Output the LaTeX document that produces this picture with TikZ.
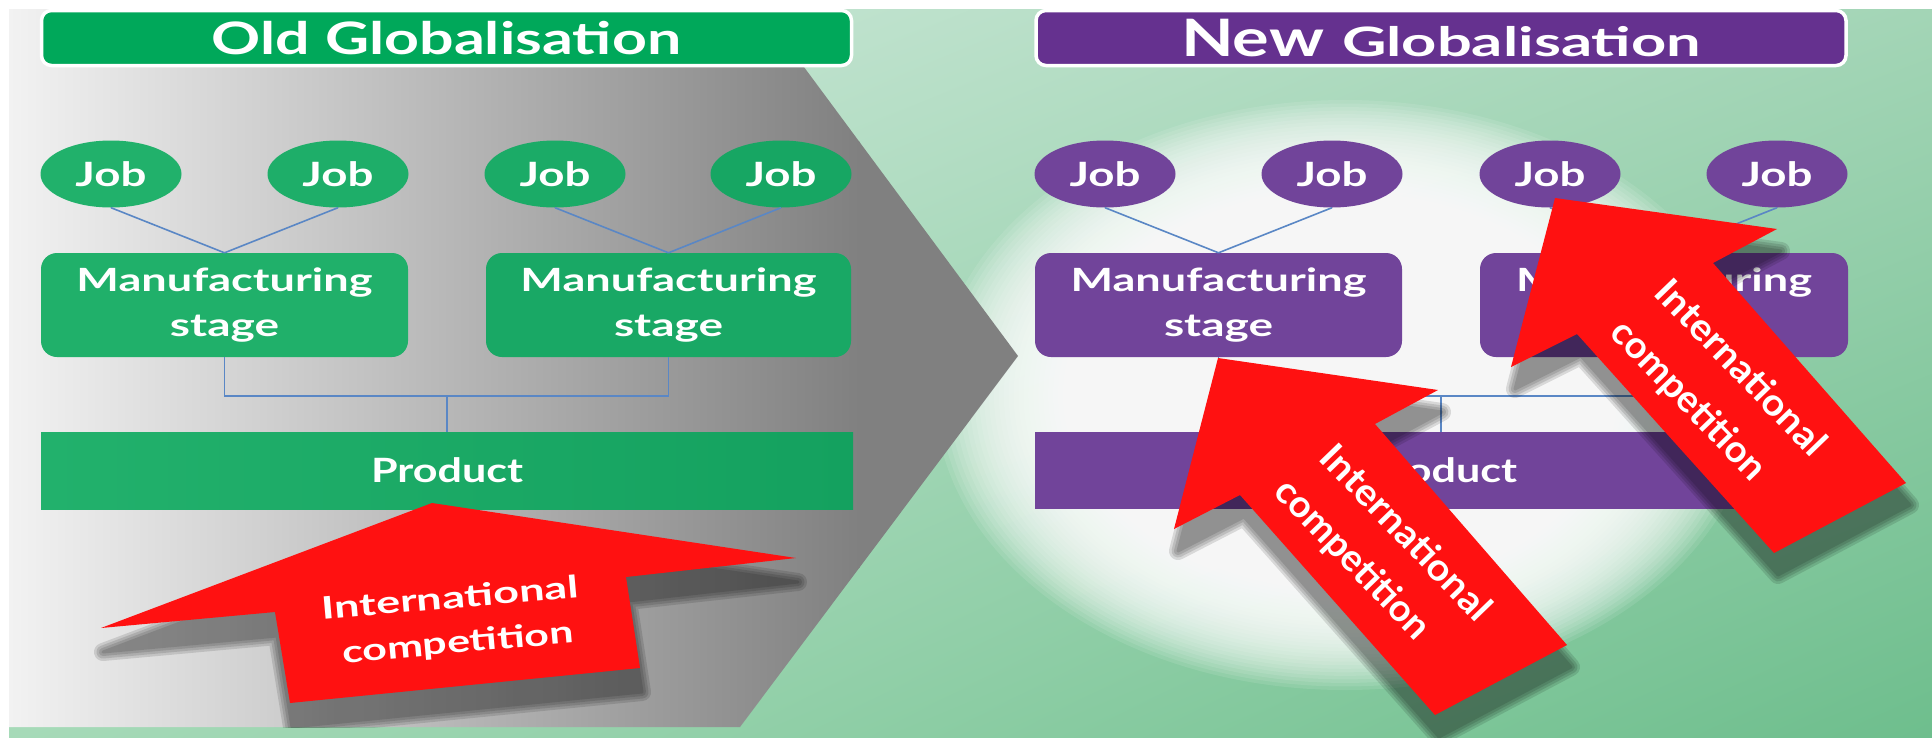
\documentclass[tikz,border=0pt]{standalone}
\usepackage{fontspec}
\usepackage{graphicx}
\setmainfont{Lato}
\usetikzlibrary{shapes.geometric,shadings}

\definecolor{oldtitle}{HTML}{00A85A}
\definecolor{oldjobA}{HTML}{21B16B}
\definecolor{oldjobB}{HTML}{1EAE69}
\definecolor{oldjobC}{HTML}{1BAB67}
\definecolor{oldjobD}{HTML}{17A663}
\definecolor{oldmfgA}{HTML}{20B06A}
\definecolor{oldmfgB}{HTML}{19A865}
\definecolor{oldprodL}{HTML}{22B16C}
\definecolor{oldprodR}{HTML}{14A15F}
\definecolor{newtitle}{HTML}{65318F}
\definecolor{newpurple}{HTML}{71449A}
\definecolor{arrowred}{HTML}{FF1111}
\definecolor{lineblue}{HTML}{5A87C5}
\definecolor{bgUL}{HTML}{D4ECDF}
\definecolor{bgUR}{HTML}{A3D5B6}
\definecolor{bgLL}{HTML}{A6DAB8}
\definecolor{bgLR}{HTML}{6EBE8D}
\definecolor{grayL}{HTML}{F2F2F2}
\definecolor{grayM}{HTML}{CDCDCD}
\definecolor{grayR}{HTML}{808080}

\newcommand{\fitw}[2]{\resizebox{#1}{\height}{#2}}
\newcommand{\softshadow}[2]{%
  \foreach \lw in {18,13,8,3}{%
    \begin{scope}[transparency group, opacity=0.12]
      \filldraw[black, line width=\lw pt, line join=round, shift={#1}] #2;
    \end{scope}}%
}

\begin{document}
\begin{tikzpicture}[x=1pt,y=-1pt,
  jobst/.style={ellipse, minimum width=141pt, minimum height=67pt, inner sep=0pt, text=white, font=\fontsize{33.5}{40}\selectfont\bfseries},
  mfgst/.style={rectangle, rounded corners=16pt, minimum width=367pt, minimum height=104pt, inner sep=0pt, text=white, align=center, font=\fontsize{32}{45}\selectfont\bfseries},
  prodst/.style={rectangle, minimum width=812pt, minimum height=77pt, inner sep=0pt, text=white, font=\fontsize{33.5}{40}\selectfont\bfseries},
  titlest/.style={rectangle, rounded corners=10pt, draw=white, line width=3.5pt, minimum width=810pt, minimum height=55pt, inner sep=0pt, text=white},
  conn/.style={draw=lineblue, line width=1.6pt},
  redarrow/.style={fill=arrowred},
  atextold/.style={text=white, inner sep=0pt, font=\fontsize{31}{37}\selectfont\bfseries, rotate=5},
  atextnew/.style={text=white, inner sep=0pt, font=\fontsize{37.5}{45}\selectfont\bfseries, rotate=-46},
]
\useasboundingbox (0,0) rectangle (1932,737);
\fill[white] (0,0) rectangle (1932,737);
% green background
\shade[upper left=bgUL, upper right=bgUR, lower left=bgLL, lower right=bgLR] (9,9) rectangle (1932,737);
% white glow (stacked translucent ellipses)
\foreach \i in {0,...,29}{%
  \pgfmathsetmacro{\rf}{1-\i*0.012}
  \fill[white, opacity=0.1] (1345,395) ellipse [x radius=\rf*410pt, y radius=\rf*295pt];
}
% grey chevron
\begin{scope}
  \clip (9,9) -- (761,9) -- (1018,356) -- (740,727) -- (9,727) -- cycle;
  \shade[left color=grayL, middle color=grayM, right color=grayR] (9,9) rectangle (860,727);
  \fill[grayR] (859,9) rectangle (1030,727);
\end{scope}

% titles
\node[titlest, fill=oldtitle, font=\fontsize{44.7}{52}\selectfont\bfseries] (otitle) at (446.5,38) {\fitw{469pt}{Old Globalisation}};
\node[titlest, fill=newtitle, font=\bfseries] (ntitle) at (1441,38) {{\fontsize{51.6}{60}\selectfont\fitw{143pt}{New}}\hspace{18pt}{\fontsize{40.5}{48}\selectfont\fitw{359pt}{Globalisation}}};

% old side
\node[jobst, fill=oldjobA] (oj1) at (111,174) {\fitw{71pt}{Job}};
\node[jobst, fill=oldjobB] (oj2) at (338,174) {\fitw{71pt}{Job}};
\node[jobst, fill=oldjobC] (oj3) at (555,174) {\fitw{71pt}{Job}};
\node[jobst, fill=oldjobD] (oj4) at (781,174) {\fitw{71pt}{Job}};
\node[mfgst, fill=oldmfgA] (om1) at (224.5,305) {\fitw{296pt}{Manufacturing}\\\fitw{109pt}{stage}};
\node[mfgst, fill=oldmfgB, minimum width=365pt] (om2) at (668.5,305) {\fitw{296pt}{Manufacturing}\\\fitw{109pt}{stage}};
\node[prodst, left color=oldprodL, right color=oldprodR] (op) at (447,470.5) {\fitw{152pt}{Product}};
\draw[conn] (oj1.south) -- (om1.north);
\draw[conn] (oj2.south) -- (om1.north);
\draw[conn] (oj3.south) -- (om2.north);
\draw[conn] (oj4.south) -- (om2.north);
\coordinate (obus) at (447,396);
\draw[conn] (om1.south) |- (obus) -| (om2.south);
\draw[conn] (obus) -- (op.north);

% new side
\node[jobst, fill=newpurple] (nj1) at (1105,174) {\fitw{71pt}{Job}};
\node[jobst, fill=newpurple] (nj2) at (1332,174) {\fitw{71pt}{Job}};
\node[jobst, fill=newpurple] (nj3) at (1550,174) {\fitw{71pt}{Job}};
\node[jobst, fill=newpurple] (nj4) at (1777,174) {\fitw{71pt}{Job}};
\node[mfgst, fill=newpurple] (nm1) at (1218.5,305) {\fitw{296pt}{Manufacturing}\\\fitw{109pt}{stage}};
\node[mfgst, fill=newpurple, minimum width=368pt] (nm2) at (1664,305) {\fitw{296pt}{Manufacturing}\\\fitw{109pt}{stage}};
\node[prodst, fill=newpurple] (np) at (1441,470.5) {\fitw{152pt}{Product}};
\draw[conn] (nj1.south) -- (nm1.north);
\draw[conn] (nj2.south) -- (nm1.north);
\draw[conn] (nj3.south) -- (nm2.north);
\draw[conn] (nj4.south) -- (nm2.north);
\coordinate (nbus) at (1441,396);
\draw[conn] (nm1.south) |- (nbus) -| (nm2.south);
\draw[conn] (nbus) -- (np.north);

% arrows
\def\arrowOld{(432,503) -- (796,558) -- (626,577) -- (640,668) -- (290,703) -- (275,612) -- (101,628) -- cycle}
\def\arrowA{(1218,358) -- (1438,390) -- (1375,424) -- (1567,645) -- (1435,715) -- (1240,495) -- (1174,529) -- cycle}
\def\arrowB{(1555,198) -- (1777,229) -- (1713,263) -- (1906,483) -- (1774,553) -- (1577,334) -- (1511,367) -- cycle}
\begin{scope}
\clip (9,9) rectangle (1932,727);
\softshadow{(2,24)}{\arrowOld}
\end{scope}
\softshadow{(4,22)}{\arrowA}
\softshadow{(4,22)}{\arrowB}
\fill[redarrow] \arrowOld;
\fill[redarrow] \arrowA;
\fill[redarrow] \arrowB;

\node[atextold] (oa1) at (450,597) {\fitw{257pt}{International}};
\node[atextold] (oa2) at (458,644) {\fitw{232pt}{competition}};
\node[atextnew] (na1) at (1407,532) {\fitw{228pt}{International}};
\node[atextnew] (na2) at (1352,560) {\fitw{206pt}{competition}};
\node[atextnew] (nb1) at (1742,367) {\fitw{228pt}{International}};
\node[atextnew] (nb2) at (1688,401) {\fitw{206pt}{competition}};
\end{tikzpicture}
\end{document}
